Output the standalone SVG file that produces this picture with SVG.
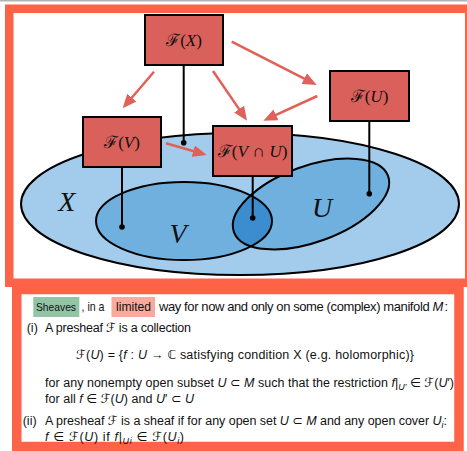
<svg xmlns="http://www.w3.org/2000/svg" width="467" height="451" viewBox="0 0 467 451">
<style>
.frame{fill:none;stroke:#FF6347}
.node rect{fill:#D9605B;stroke:#000;stroke-width:2}
.nl{font-family:"Liberation Serif","DejaVu Serif",serif;font-size:17px;text-anchor:middle;fill:#111}
.big{font-family:"Liberation Serif","DejaVu Serif",serif;font-style:italic;font-size:28px;text-anchor:middle;fill:#111}
.arr{stroke:#E0605A;stroke-width:2.5;fill:none;marker-end:url(#ah)}
.stem{stroke:#000;stroke-width:2}
.t{font-family:"Liberation Sans","DejaVu Sans",sans-serif;font-size:12.5px;fill:#111}
.n{font-family:"Liberation Sans Narrow","Liberation Sans","DejaVu Sans",sans-serif;font-size:13px}
.i{font-style:italic}
.sub{font-size:9px;font-style:italic}
</style>
<defs>
<marker id="ah" markerUnits="userSpaceOnUse" markerWidth="14" markerHeight="12" refX="6" refY="6" orient="auto">
<path d="M0,0 L14,6 L0,12 z" fill="#E0605A"/>
</marker>
<clipPath id="clipV"><ellipse cx="184" cy="221" rx="88" ry="39"/></clipPath>
</defs>
<rect x="0" y="0" width="467" height="1.5" fill="#b4b4b4"/>
<rect class="frame" x="9.25" y="8.75" width="460" height="274" stroke-width="8.5"/>
<rect class="frame" x="16.75" y="289.5" width="442.25" height="157" stroke-width="9.5"/>
<g id="sets">
<ellipse cx="240" cy="204" rx="219" ry="71" fill="#A3CCEC" stroke="#000" stroke-width="2"/>
<ellipse cx="184" cy="221" rx="88" ry="39" fill="#6FB0DF" stroke="none"/>
<ellipse cx="311" cy="204" rx="82" ry="38" transform="rotate(-20 311 204)" fill="#6FB0DF" stroke="none"/>
<g clip-path="url(#clipV)">
<ellipse cx="311" cy="204" rx="82" ry="38" transform="rotate(-20 311 204)" fill="#3B8DD0"/>
</g>
<ellipse cx="184" cy="221" rx="88" ry="39" fill="none" stroke="#000" stroke-width="2"/>
<ellipse cx="311" cy="204" rx="82" ry="38" transform="rotate(-20 311 204)" fill="none" stroke="#000" stroke-width="2"/>
<text class="big" x="66.7" y="211">X</text>
<text class="big" x="178" y="243">V</text>
<text class="big" x="322" y="217">U</text>
</g>
<g id="connectors">
<line class="stem" x1="183.7" y1="65" x2="183.7" y2="142.7"/>
<circle cx="183.7" cy="142.7" r="2.8"/>
<line class="stem" x1="122" y1="167" x2="122" y2="227"/>
<circle cx="122" cy="227" r="2.8"/>
<line class="stem" x1="252.7" y1="176" x2="252.7" y2="218"/>
<circle cx="252.7" cy="218" r="2.8"/>
<line class="stem" x1="369.3" y1="121" x2="369.3" y2="193.7"/>
<circle cx="369.3" cy="193.7" r="2.8"/>
<line class="arr" x1="154" y1="71.7" x2="127.9" y2="102.2"/>
<line class="arr" x1="213" y1="71" x2="242.5" y2="114.1"/>
<line class="arr" x1="231.7" y1="41.7" x2="309.6" y2="81.4"/>
<line class="arr" x1="317.3" y1="96" x2="270.6" y2="117.4"/>
<line class="arr" x1="166" y1="143.3" x2="199" y2="152.8"/>
</g>
<g id="FX" class="node"><rect x="145" y="15" width="78" height="50"/><text class="nl" x="184" y="46">ℱ(<tspan class="i">X</tspan>)</text></g>
<g id="FU" class="node"><rect x="330" y="71" width="79" height="50"/><text class="nl" x="369.5" y="102">ℱ(<tspan class="i">U</tspan>)</text></g>
<g id="FV" class="node"><rect x="83" y="117" width="78" height="50"/><text class="nl" x="122" y="148">ℱ(<tspan class="i">V</tspan>)</text></g>
<g id="FVU" class="node"><rect x="213" y="126" width="79" height="50"/><text class="nl" x="252.5" y="157" textLength="70" lengthAdjust="spacingAndGlyphs">ℱ(<tspan class="i">V</tspan> ∩ <tspan class="i">U</tspan>)</text></g>
<g id="text">
<rect x="33.3" y="297" width="46" height="20" fill="#93C4A6"/>
<rect x="111.5" y="297" width="43.5" height="20" fill="#FAAA9C"/>
<text class="t n" x="36" y="311" font-size="11px" style="font-size:11px" textLength="40" lengthAdjust="spacingAndGlyphs">Sheaves</text>
<text class="t n" x="81.5" y="311" textLength="23" lengthAdjust="spacingAndGlyphs">, in a</text>
<text class="t n" x="116" y="311" textLength="35" lengthAdjust="spacingAndGlyphs">limited</text>
<text class="t n" x="159" y="311" textLength="289" lengthAdjust="spacing">way for now and only on some (complex) manifold <tspan class="i">M</tspan><tspan dx="1.5">:</tspan></text>
<text class="t" x="26.7" y="332">(i)</text>
<text class="t" x="45" y="332" textLength="146" lengthAdjust="spacing">A presheaf ℱ is a collection</text>
<text class="t" x="76" y="359" textLength="338" lengthAdjust="spacing">ℱ(<tspan class="i">U</tspan>) = {<tspan class="i">f</tspan> : <tspan class="i">U</tspan> → ℂ satisfying condition X (e.g. holomorphic)}</text>
<text class="t" x="45" y="387" textLength="409" lengthAdjust="spacing">for any nonempty open subset <tspan class="i">U</tspan> ⊂ <tspan class="i">M</tspan> such that the restriction <tspan class="i">f</tspan>|<tspan class="sub" dy="3">U′</tspan><tspan dy="-3"> ∈ ℱ(</tspan><tspan class="i">U</tspan>′)</text>
<text class="t" x="45" y="402.5" textLength="149" lengthAdjust="spacing">for all <tspan class="i">f</tspan> ∈ ℱ(<tspan class="i">U</tspan>) and <tspan class="i">U</tspan>′ ⊂ <tspan class="i">U</tspan></text>
<text class="t" x="22.7" y="425">(ii)</text>
<text class="t" x="45" y="425" textLength="402" lengthAdjust="spacing">A presheaf ℱ is a sheaf if for any open set <tspan class="i">U</tspan> ⊂ <tspan class="i">M</tspan> and any open cover <tspan class="i">U</tspan><tspan class="sub" dy="3">i</tspan><tspan dy="-3">:</tspan></text>
<text class="t" x="45" y="441" textLength="139" lengthAdjust="spacing"><tspan class="i">f</tspan> ∈ ℱ(<tspan class="i">U</tspan>) if <tspan class="i">f</tspan>|<tspan class="sub" dy="3">U</tspan><tspan class="sub" font-size="7px">i</tspan><tspan dy="-3"> ∈ ℱ(</tspan><tspan class="i">U</tspan><tspan class="sub" dy="3">i</tspan><tspan dy="-3">)</tspan></text>
</g>
</svg>
